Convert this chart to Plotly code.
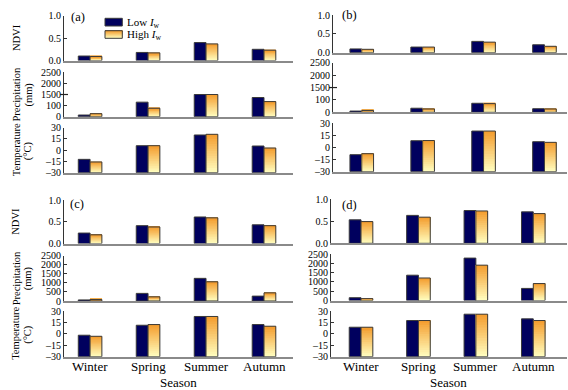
import plotly.graph_objects as go

W, H = 568, 390
seasons = ["Winter", "Spring", "Summer", "Autumn"]

# NDVI
ndvi_low_a = [0.10, 0.18, 0.40, 0.25]
ndvi_high_a = [0.09, 0.17, 0.37, 0.23]
ndvi_low_b = [0.10, 0.15, 0.30, 0.21]
ndvi_high_b = [0.09, 0.15, 0.28, 0.17]
ndvi_low_c = [0.24, 0.41, 0.61, 0.43]
ndvi_high_c = [0.20, 0.38, 0.59, 0.41]
ndvi_low_d = [0.53, 0.63, 0.74, 0.71]
ndvi_high_d = [0.49, 0.59, 0.73, 0.67]

# Precipitation (mm)
prec_low_a = [15, 131, 200, 173]
prec_high_a = [27, 76, 200, 136]
prec_low_b = [10, 33, 73, 29]
prec_high_b = [15, 27, 70, 27]
prec_low_c = [60, 420, 1250, 270]
prec_high_c = [80, 230, 1060, 450]
prec_low_d = [150, 1360, 2280, 650]
prec_high_d = [100, 1210, 1900, 910]

# Temperature (°C)
temp_low_a = [-12.2, 6.0, 20.3, 5.6]
temp_high_a = [-15.7, 6.0, 21.2, 2.9]
temp_low_b = [-8.9, 8.4, 20.4, 7.2]
temp_high_b = [-7.7, 8.6, 20.4, 6.4]
temp_low_c = [-1.8, 11.3, 22.8, 12.2]
temp_high_c = [-3.2, 12.2, 22.8, 10.0]
temp_low_d = [8.7, 17.5, 25.8, 19.7]
temp_high_d = [8.7, 17.5, 25.8, 17.5]

ndvi_ticks = [0, 0.5, 1.0]
ndvi_ticktext = ["0.0", "0.5", "1.0"]
prec_broken_ticktext = ["0", "100", "1500", "2000", "2500"]
prec_ticks = [0, 500, 1000, 1500, 2000, 2500]
temp_ticks = [-30, -15, 0, 15, 30]
temp_ticktext = ["\u201330", "\u201315", "0", "15", "30"]

FONT = "Liberation Serif, Times New Roman, serif"
NAVY = "#00005e"
EDGE = "#3a3a3a"
TOP = (244, 158, 48)
BOT = (255, 252, 188)
NSEG = 16


def brk(v):
    # broken axis: 0-200 lower segment, 1500-2500 upper segment
    return v / 100.0 if v <= 200 else 2 + (v - 1500) / 500.0


panels = [
    dict(name="(a)", lab=(78, 17), x=(64, 293), rng=(-0.45, 3.5),
         rows=[(15.7, 60.5), (72.3, 116.7), (127.7, 172.7)], broken=True,
         data=[(ndvi_low_a, ndvi_high_a), (prec_low_a, prec_high_a), (temp_low_a, temp_high_a)],
         left=True, bottom=False),
    dict(name="(b)", lab=(349, 15), x=(333, 567), rng=(-0.472, 3.37),
         rows=[(15, 52.7), (62.8, 112.3), (123.3, 171.7)], broken=True,
         data=[(ndvi_low_b, ndvi_high_b), (prec_low_b, prec_high_b), (temp_low_b, temp_high_b)],
         left=False, bottom=False),
    dict(name="(c)", lab=(77, 204), x=(64, 293), rng=(-0.45, 3.5),
         rows=[(200, 243.5), (255.7, 301), (311, 356.7)], broken=False,
         data=[(ndvi_low_c, ndvi_high_c), (prec_low_c, prec_high_c), (temp_low_c, temp_high_c)],
         left=True, bottom=True),
    dict(name="(d)", lab=(349, 205), x=(331, 567), rng=(-0.523, 3.587),
         rows=[(199, 243.3), (254, 300.5), (311, 356.7)], broken=False,
         data=[(ndvi_low_d, ndvi_high_d), (prec_low_d, prec_high_d), (temp_low_d, temp_high_d)],
         left=False, bottom=True),
]

fig = go.Figure()
layout = {}
annotations = []
shapes = []


def px(x):
    return x / W


def py(y):
    return 1 - y / H


def grad(i):
    f = i / (NSEG - 1)
    return "rgb(%d,%d,%d)" % tuple(round(BOT[k] + (TOP[k] - BOT[k]) * f) for k in range(3))


def note(text, x, y, size, angle=0, xanchor="center", **kw):
    d = dict(text=text, x=x, y=y, xref=kw.pop("xref", "paper"), yref="paper",
             showarrow=False, textangle=angle, xanchor=xanchor, yanchor="middle",
             font=dict(family=FONT, size=size, color="black"))
    d.update(kw)
    annotations.append(d)


idx = 0
for p in panels:
    x0, x1 = p["x"]
    span = (x1 - x0) / (p["rng"][1] - p["rng"][0])
    bw = 11.8 / span
    for r in range(3):
        idx += 1
        sfx = "" if idx == 1 else str(idx)
        xa, ya = "x" + sfx, "y" + sfx
        top, bot = p["rows"][r]
        low, high = p["data"][r]
        if r == 0:
            base, yr = 0.0, [0, 1]
            tv, tt = ndvi_ticks, ndvi_ticktext
            lv, hv = list(low), list(high)
        elif r == 1:
            base = 0.0
            if p["broken"]:
                yr = [0, 4]
                tv, tt = [0, 1, 2, 3, 4], prec_broken_ticktext
                lv = [brk(v) for v in low]
                hv = [brk(v) for v in high]
            else:
                yr = [0, 2500]
                tv, tt = prec_ticks, [str(t) for t in prec_ticks]
                lv, hv = list(low), list(high)
        else:
            base, yr = -30.0, [-30, 30]
            tv, tt = temp_ticks, temp_ticktext
            lv, hv = list(low), list(high)

        fig.add_trace(go.Bar(
            x=seasons, y=[v - base for v in lv], base=[base] * 4,
            width=bw, offset=-bw, xaxis=xa, yaxis=ya, showlegend=False,
            marker=dict(color=NAVY, line=dict(color=EDGE, width=1)),
            hoverinfo="skip"))
        for i in range(NSEG):
            fig.add_trace(go.Bar(
                x=seasons,
                y=[(v - base) * (1 - i / NSEG) for v in hv],
                base=[base + (v - base) * i / NSEG for v in hv],
                width=bw, offset=0, xaxis=xa, yaxis=ya, showlegend=False,
                marker=dict(color=grad(i), line=dict(width=0)), hoverinfo="skip"))
        fig.add_trace(go.Bar(
            x=seasons, y=[v - base for v in hv], base=[base] * 4,
            width=bw, offset=0, xaxis=xa, yaxis=ya, showlegend=False,
            marker=dict(color="rgba(0,0,0,0)", line=dict(color=EDGE, width=1)),
            hoverinfo="skip"))

        layout["xaxis" + sfx] = dict(
            domain=[px(x0), px(x1)], anchor=ya, range=list(p["rng"]),
            type="category", categoryorder="array", categoryarray=seasons,
            showline=True, linecolor="#8a8a8a", linewidth=2, automargin=False,
            ticks="", showticklabels=False, showgrid=False, zeroline=False)
        layout["yaxis" + sfx] = dict(
            domain=[py(bot), py(top)], anchor=xa, range=yr, automargin=False,
            tickvals=tv, ticktext=tt, showline=True, linecolor="#333333", linewidth=1,
            ticks="inside", ticklen=3, tickcolor="#333333", showgrid=False, zeroline=False,
            tickfont=dict(family=FONT, size=10, color="black"))

        if r == 1 and p["broken"]:
            yb = bot - (bot - top) * 2 / 4
            shapes.append(dict(type="line", xref="paper", yref="paper",
                               x0=px(x0 - 4), x1=px(x0 + 4), y0=py(yb), y1=py(yb),
                               line=dict(color="#222222", width=1.2)))

        if p["bottom"] and r == 2:
            for s in seasons:
                note(s, s, py(bot + 9.5), 13, xref=xa)

    note(p["name"], px(p["lab"][0]), py(p["lab"][1]), 12.5)
    if p["left"]:
        rows = p["rows"]
        specs = [(["NDVI"], rows[0]), (["Precipitation", "(mm)"], rows[1]),
                 (["Temperature", "(\u00b0C)"], rows[2])]
        for lines, (t, b) in specs:
            yc = (t + b) / 2
            xs = [16] if len(lines) == 1 else [16, 28]
            for txt, xx in zip(lines, xs):
                note(txt, px(xx), py(yc), 10.5, angle=-90)
    if p["bottom"]:
        note("Season", px((x0 + x1) / 2 - 0.5), py(382), 13)

# Legend (manual) in panel (a)
shapes.append(dict(type="rect", xref="paper", yref="paper",
                   x0=px(105), x1=px(122.3), y0=py(26), y1=py(18.3),
                   fillcolor=NAVY, line=dict(color=EDGE, width=1)))
lg_top, lg_bot = 30.7, 38.3
for i in range(NSEG):
    ya0 = lg_bot - (lg_bot - lg_top) * i / NSEG
    shapes.append(dict(type="rect", xref="paper", yref="paper",
                       x0=px(105), x1=px(122.3), y0=py(lg_top), y1=py(ya0),
                       fillcolor=grad(i), line=dict(width=0)))
shapes.append(dict(type="rect", xref="paper", yref="paper",
                   x0=px(105), x1=px(122.3), y0=py(lg_bot), y1=py(lg_top),
                   fillcolor="rgba(0,0,0,0)", line=dict(color=EDGE, width=1)))
for txt, yy in [("Low <i>I</i><sub>w</sub>", 22.5), ("High <i>I</i><sub>w</sub>", 35.0)]:
    note(txt, px(124.5), py(yy), 11, xanchor="left")

fig.update_layout(
    width=W, height=H, margin=dict(l=0, r=0, t=0, b=0, autoexpand=False),
    paper_bgcolor="white", plot_bgcolor="white",
    barmode="overlay", showlegend=False,
    annotations=annotations, shapes=shapes, **layout)

fig.write_html("out.html", config={"displayModeBar": False},
               post_script="document.body.style.margin='0px';")
